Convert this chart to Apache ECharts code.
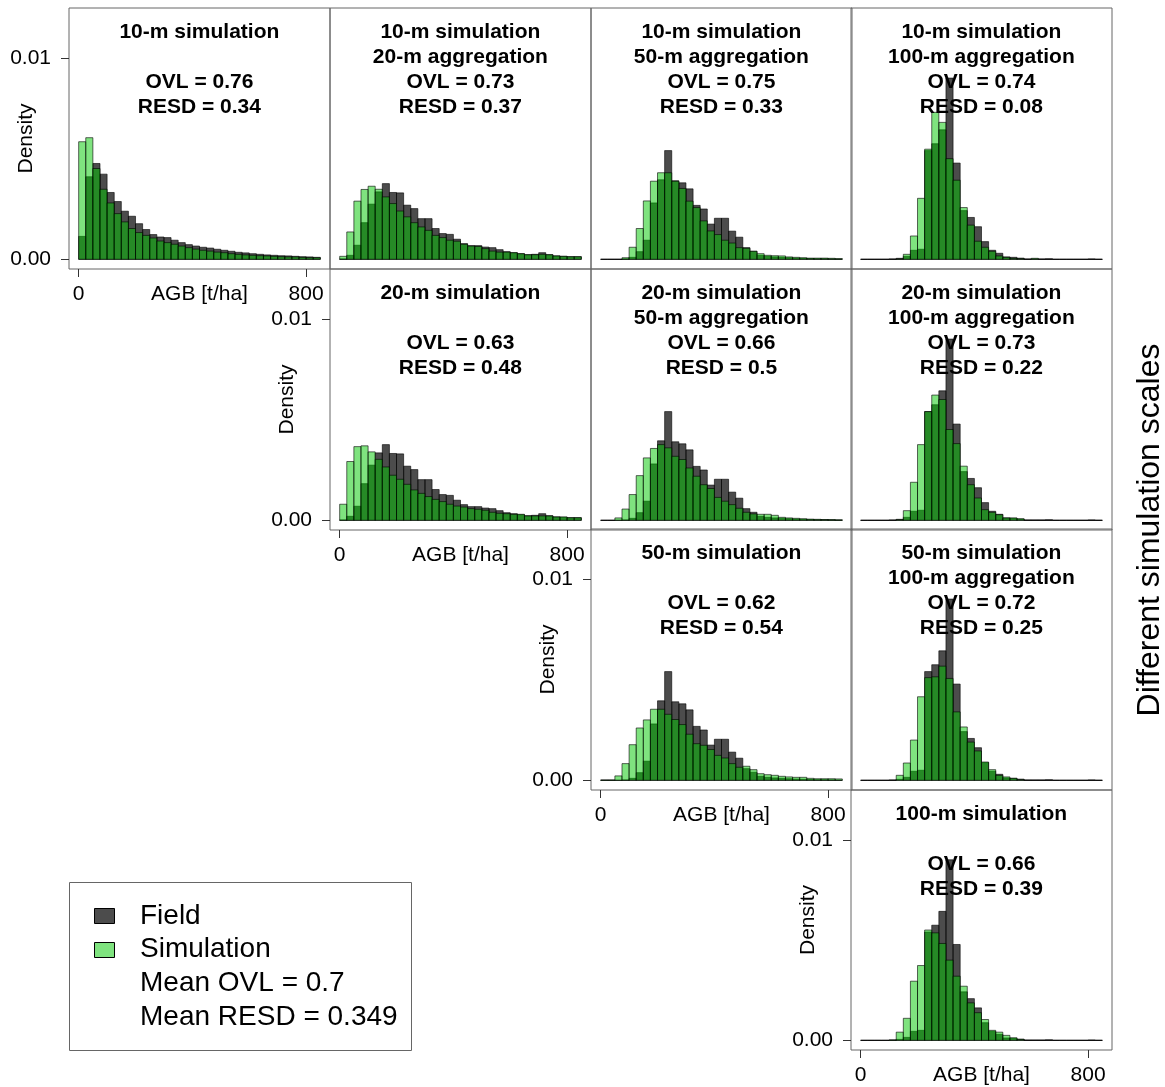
<!DOCTYPE html>
<html>
<head>
<meta charset="utf-8">
<title>AGB histograms, field vs simulation</title>
<script src="https://cdn.jsdelivr.net/npm/echarts@6/dist/echarts.min.js"></script>
<style>
  html, body { margin: 0; padding: 0; background: #fff; }
  #chart { width: 1165px; height: 1087px; }
</style>
</head>
<body>
<div id="chart"></div>
<script>
// histogram breaks, AGB [t/ha], 25 t/ha wide
var binBreaks = [0, 25, 50, 75, 100, 125, 150, 175, 200, 225, 250, 275, 300, 325, 350, 375, 400,
  425, 450, 475, 500, 525, 550, 575, 600, 625, 650, 675, 700, 725, 750, 775, 800, 825, 850];

// field densities per aggregation scale
var field10 = [0.00114, 0.0041, 0.00476, 0.00423, 0.00332, 0.00287, 0.00239, 0.00214, 0.00177, 0.00148,
  0.00123, 0.00111, 0.00108, 0.00095, 0.00083, 0.00073, 0.00066, 0.0006, 0.00056, 0.0005,
  0.00045, 0.0004, 0.00035, 0.00032, 0.00028, 0.00025, 0.00022, 0.0002, 0.00018, 0.00017,
  0.00015, 0.00013, 0.00012, 0.0001];
var field20 = [0.00002, 0.0002, 0.0007, 0.00182, 0.00274, 0.00335, 0.00376, 0.00332, 0.0033, 0.00269,
  0.00252, 0.00202, 0.00202, 0.00153, 0.00128, 0.00124, 0.001, 0.00078, 0.00068, 0.00068,
  0.00061, 0.00058, 0.00048, 0.00038, 0.00033, 0.00028, 0.00023, 0.00025, 0.00033, 0.00023,
  0.00017, 0.00015, 0.00013, 0.00013];
var field50 = [0, 0, 0, 0.00002, 0.0001, 0.00038, 0.00095, 0.0028, 0.00395, 0.0054,
  0.0039, 0.0038, 0.0035, 0.00268, 0.0025, 0.00175, 0.00204, 0.00204, 0.0014, 0.0011,
  0.00058, 0.0004, 0.0002, 0.00015, 0.00012, 0.0001, 0.00008, 0.00006, 0.00005, 0.00004,
  0.00003, 0.00003, 0.00002, 0];
var field100 = [0, 0, 0, 0, 0.00002, 0.00005, 0.00015, 0.00045, 0.0005, 0.0054,
  0.00574, 0.00643, 0.009, 0.00478, 0.00242, 0.00208, 0.00162, 0.00088, 0.00045, 0.0003,
  0.00012, 0.0001, 0.00006, 0.00002, 0.00002, 0.00002, 0.00003, 0, 0, 0,
  0, 0, 0.00002, 0];

// simulated densities (simulation scale / aggregation scale)
var sim10 = [0.00584, 0.00604, 0.00451, 0.00348, 0.0028, 0.00227, 0.00186, 0.00153, 0.00133, 0.00119,
  0.00106, 0.00091, 0.00083, 0.00075, 0.00066, 0.00058, 0.00051, 0.00045, 0.00041, 0.00036,
  0.00033, 0.00028, 0.00025, 0.00022, 0.0002, 0.00018, 0.00017, 0.00015, 0.00013, 0.00012,
  0.00012, 0.0001, 0.00008, 0.00008];
var sim10agg20 = [0.00015, 0.00136, 0.00289, 0.00347, 0.00363, 0.00348, 0.0031, 0.00277, 0.0024, 0.00211,
  0.00182, 0.00161, 0.00144, 0.00119, 0.00108, 0.00095, 0.0009, 0.00075, 0.00066, 0.00064,
  0.00053, 0.00041, 0.00036, 0.00036, 0.00033, 0.00028, 0.00023, 0.00023, 0.00025, 0.00023,
  0.00017, 0.00015, 0.00013, 0.00013];
var sim10agg50 = [0, 0, 0, 0.00008, 0.0006, 0.00153, 0.0029, 0.00388, 0.0043, 0.0043,
  0.00388, 0.00352, 0.00289, 0.00257, 0.00191, 0.00141, 0.00123, 0.00095, 0.00081, 0.00058,
  0.00055, 0.0004, 0.00028, 0.0002, 0.00018, 0.00017, 0.00012, 0.0001, 0.00008, 0.00006,
  0.00006, 0.00006, 0.00005, 0.00004];
var sim10agg100 = [0, 0, 0, 0, 0, 0.00002, 0.00025, 0.00116, 0.00303, 0.00547,
  0.0073, 0.0068, 0.005, 0.00393, 0.00257, 0.0017, 0.0009, 0.0006, 0.0004, 0.00017,
  0.0001, 0.00005, 0.00003, 0, 0.00005, 0, 0, 0, 0, 0,
  0, 0, 0, 0];
var sim20 = [0.0008, 0.00292, 0.00366, 0.0037, 0.0034, 0.00303, 0.00265, 0.00224, 0.00204, 0.00179,
  0.00151, 0.00134, 0.00118, 0.00104, 0.00093, 0.0008, 0.00071, 0.00066, 0.00058, 0.00055,
  0.0005, 0.0004, 0.00035, 0.00033, 0.0003, 0.0003, 0.00022, 0.00022, 0.00022, 0.00022,
  0.00017, 0.00017, 0.00013, 0.00013];
var sim20agg50 = [0, 0, 0.00012, 0.00056, 0.00128, 0.00222, 0.0031, 0.00357, 0.00376, 0.0036,
  0.00318, 0.00302, 0.0026, 0.00219, 0.00177, 0.00158, 0.00114, 0.00095, 0.00078, 0.0006,
  0.0004, 0.00032, 0.0003, 0.0003, 0.00025, 0.00015, 0.00012, 0.0001, 0.00008, 0.00006,
  0.00005, 0.00004, 0.00004, 0.00003];
var sim20agg100 = [0, 0, 0, 0, 0, 0.00003, 0.00048, 0.00189, 0.00376, 0.0054,
  0.00622, 0.006, 0.00451, 0.00381, 0.00269, 0.00177, 0.00111, 0.00053, 0.0004, 0.00028,
  0.00012, 0.00012, 0.00008, 0, 0, 0, 0, 0, 0, 0,
  0, 0, 0, 0];
var sim50 = [0.00002, 0.00002, 0.00022, 0.00083, 0.00177, 0.0026, 0.003, 0.00353, 0.00353, 0.00328,
  0.00302, 0.00277, 0.00229, 0.00182, 0.00174, 0.00153, 0.00124, 0.00111, 0.00083, 0.00065,
  0.0007, 0.00053, 0.00033, 0.00028, 0.00025, 0.0002, 0.00017, 0.00015, 0.00015, 0.0001,
  0.00008, 0.00008, 0.00008, 0.00007];
var sim50agg100 = [0, 0, 0, 0, 0, 0.00025, 0.00086, 0.002, 0.00415, 0.0051,
  0.00514, 0.00567, 0.00506, 0.0034, 0.00265, 0.0019, 0.00146, 0.00091, 0.00053, 0.00025,
  0.00017, 0.0001, 0.00003, 0, 0, 0, 0, 0, 0, 0,
  0, 0, 0, 0];
var sim100 = [0, 0, 0, 0, 0.00002, 0.00041, 0.0011, 0.00295, 0.00373, 0.0055,
  0.00536, 0.00483, 0.004, 0.0032, 0.0027, 0.00187, 0.00138, 0.00104, 0.0005, 0.00041,
  0.00025, 0.00013, 0.00005, 0, 0, 0, 0, 0, 0, 0,
  0, 0, 0, 0];

var simLabels = ['10-m simulation', '20-m simulation', '50-m simulation', '100-m simulation'];
var aggLabels = ['', '20-m aggregation', '50-m aggregation', '100-m aggregation'];
var ovlValues = [0.76, 0.73, 0.75, 0.74, 0.63, 0.66, 0.73, 0.62, 0.72, 0.66];
var resdValues = [0.34, 0.37, 0.33, 0.08, 0.48, 0.5, 0.22, 0.54, 0.25, 0.39];
var xTickValues = [0, 800];
var yTickValues = [0, 0.01];
var meanOvl = 0.7;
var meanResd = 0.349;

// row = simulation scale, col = aggregation scale
var fieldByCol = [field10, field20, field50, field100];
var panels = [
  { r: 0, c: 0, sim: sim10 }, { r: 0, c: 1, sim: sim10agg20 }, { r: 0, c: 2, sim: sim10agg50 }, { r: 0, c: 3, sim: sim10agg100 },
  { r: 1, c: 1, sim: sim20 }, { r: 1, c: 2, sim: sim20agg50 }, { r: 1, c: 3, sim: sim20agg100 },
  { r: 2, c: 2, sim: sim50 }, { r: 2, c: 3, sim: sim50agg100 },
  { r: 3, c: 3, sim: sim100 }
];

var FONT = '"Liberation Sans", Arial, sans-serif';
var fieldColor = 'rgba(0,0,0,0.7)';
var simColor = 'rgba(0,200,0,0.5)';
var boxW = 260.75, boxH = 260.7;

function histData(dens) {
  var out = [];
  for (var k = 0; k < dens.length; k++) {
    out.push([binBreaks[k], binBreaks[k + 1], dens[k]]);
  }
  return out;
}

function barRenderer(fill) {
  return function (params, api) {
    var p0 = api.coord([api.value(0), 0]);
    var p1 = api.coord([api.value(1), api.value(2)]);
    return {
      type: 'rect',
      shape: { x: p0[0], y: p1[1], width: p1[0] - p0[0], height: p0[1] - p1[1] },
      style: { fill: fill, stroke: 'rgba(0,0,0,0.75)', lineWidth: 0.8 }
    };
  };
}

var grids = [], xAxes = [], yAxes = [], series = [], graphics = [];
var labelStyle = { fontFamily: FONT, fontSize: 21, color: '#000' };
var tickStyle = { show: true, inside: false, length: 8, lineStyle: { color: '#333', width: 1 } };

panels.forEach(function (p, i) {
  var left = Math.round(69 + p.c * boxW), top = Math.round(8 + p.r * boxH);
  var diag = p.r === p.c;
  // plot region = box; axis ranges padded by 4% like base R
  grids.push({ left: left, top: top, width: Math.round(boxW), height: Math.round(boxH),
    show: true, borderColor: '#666', borderWidth: 1, backgroundColor: 'transparent' });
  xAxes.push({
    gridIndex: i, type: 'value', min: -34, max: 884, show: diag, position: 'bottom',
    axisLine: { show: false, onZero: false },
    axisTick: Object.assign({ customValues: xTickValues }, tickStyle),
    axisLabel: Object.assign({ customValues: xTickValues, margin: 15 }, labelStyle),
    splitLine: { show: false },
    name: 'AGB [t/ha]', nameLocation: 'middle', nameGap: 15, nameMoveOverlap: false,
    nameTextStyle: labelStyle
  });
  yAxes.push({
    gridIndex: i, type: 'value', min: -0.00048, max: 0.01248, show: diag, position: 'left',
    axisLine: { show: false, onZero: false },
    axisTick: Object.assign({ customValues: yTickValues }, tickStyle),
    axisLabel: Object.assign({ customValues: yTickValues, margin: 18,
      formatter: function (v) { return v.toFixed(2); } }, labelStyle),
    splitLine: { show: false },
    name: 'Density', nameLocation: 'middle', nameGap: 32, nameMoveOverlap: false,
    nameTextStyle: labelStyle
  });
  series.push({
    name: 'Field', type: 'custom', xAxisIndex: i, yAxisIndex: i,
    renderItem: barRenderer(fieldColor), encode: { x: [0, 1], y: 2 },
    data: histData(fieldByCol[p.c]), z: 2
  });
  series.push({
    name: 'Simulation', type: 'custom', xAxisIndex: i, yAxisIndex: i,
    renderItem: barRenderer(simColor), encode: { x: [0, 1], y: 2 },
    data: histData(p.sim), z: 3
  });
  graphics.push({
    type: 'text', z: 10, silent: true, x: left + boxW / 2, y: top + 11.5,
    style: {
      text: [simLabels[p.r], diag ? '' : aggLabels[p.c], 'OVL = ' + ovlValues[i], 'RESD = ' + resdValues[i]].join('\n'),
      font: 'bold 21px ' + FONT, fill: '#000', align: 'center', verticalAlign: 'top', lineHeight: 25
    }
  });
});

// side label
graphics.push({
  type: 'text', x: 1150, y: 530, rotation: Math.PI / 2, silent: true,
  style: { text: 'Different simulation scales', font: '32px ' + FONT, fill: '#000', align: 'center', verticalAlign: 'middle' }
});

// legend box
graphics.push({ type: 'rect', silent: true, shape: { x: 69.5, y: 882.5, width: 342, height: 168 },
  style: { fill: '#fff', stroke: '#666', lineWidth: 1 } });
graphics.push({ type: 'rect', silent: true, shape: { x: 94.5, y: 908.5, width: 20, height: 15 },
  style: { fill: fieldColor, stroke: '#000', lineWidth: 1 } });
graphics.push({ type: 'rect', silent: true, shape: { x: 94.5, y: 942.5, width: 20, height: 15 },
  style: { fill: simColor, stroke: '#000', lineWidth: 1 } });
var legendLines = ['Field', 'Simulation', 'Mean OVL = ' + meanOvl, 'Mean RESD = ' + meanResd];
legendLines.forEach(function (t, j) {
  graphics.push({ type: 'text', silent: true, x: 140, y: 916 + j * 33.7,
    style: { text: t, font: '28px ' + FONT, fill: '#000', align: 'left', verticalAlign: 'middle' } });
});

var chart = echarts.init(document.getElementById('chart'));
chart.setOption({
  animation: false,
  backgroundColor: '#fff',
  grid: grids,
  xAxis: xAxes,
  yAxis: yAxes,
  series: series,
  graphic: graphics
});
window.onresize = chart.resize;
</script>
</body>
</html>
